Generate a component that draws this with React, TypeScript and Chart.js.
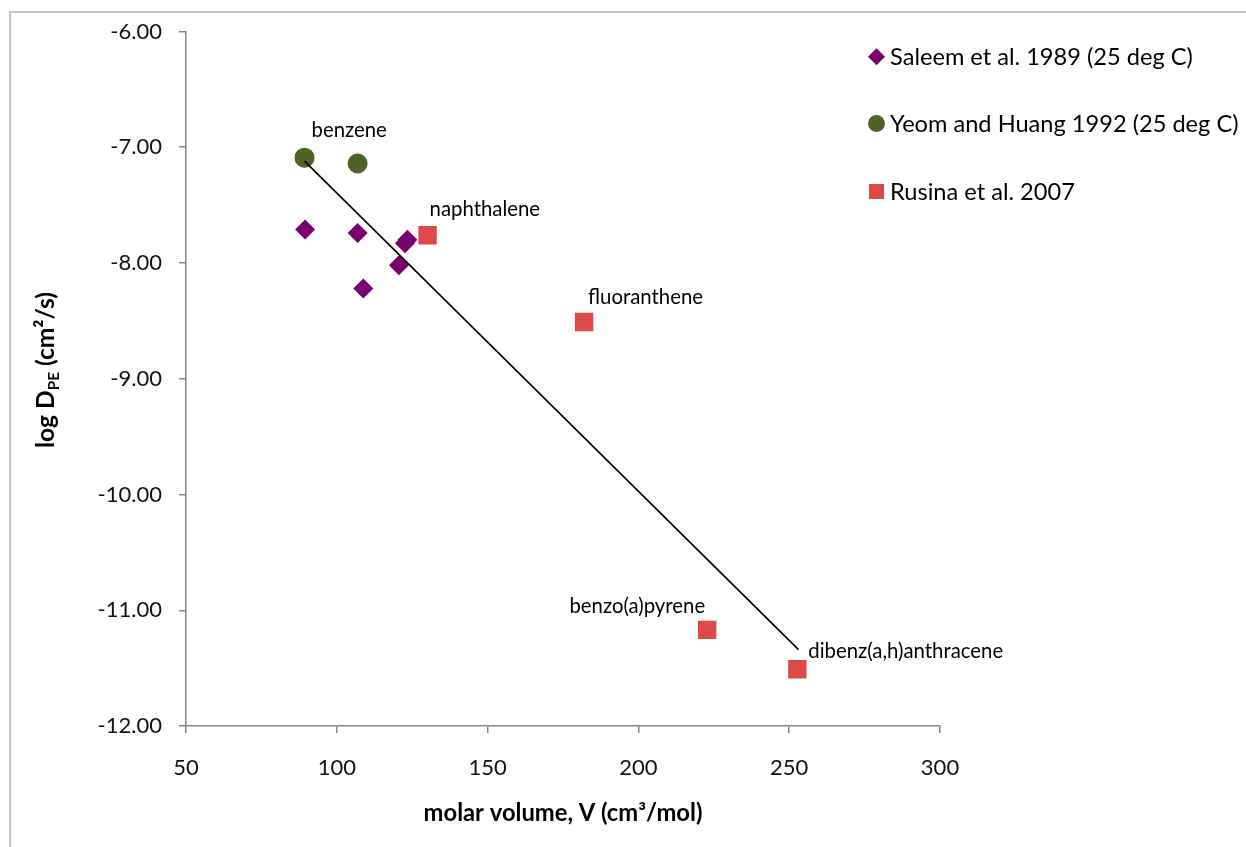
import React, { useEffect, useRef } from 'react';
import { Chart, registerables } from 'chart.js';

Chart.register(...registerables);

const FONT = 'Lato, "Open Sans", sans-serif';

// ---- data ----
const saleemX = [89.5, 106.9, 108.8, 120.6, 122.6, 123.4];
const saleemY = [-7.71, -7.74, -8.22, -8.02, -7.83, -7.8];

const yeomX = [89.3, 106.9];
const yeomY = [-7.09, -7.14];
const yeomLabels = ['benzene', ''];

const rusinaX = [130.1, 182.0, 222.8, 252.7];
const rusinaY = [-7.76, -8.51, -11.17, -11.51];
const rusinaLabels = ['naphthalene', 'fluoranthene', 'benzo(a)pyrene', 'dibenz(a,h)anthracene'];

const trendX = [89.3, 253.1];
const trendY = [-7.12, -11.34];

const seriesNames = ['Saleem et al. 1989 (25 deg C)', 'Yeom and Huang 1992 (25 deg C)', 'Rusina et al. 2007'];
const seriesColors = ['#7A0070', '#4F6228', '#DD4B48'];

const xTickValues = [50, 100, 150, 200, 250, 300];
const yTickValues = [-12, -11, -10, -9, -8, -7, -6];

const xTitle = 'molar volume, V (cm\u00B3/mol)';
const yTitleMain = 'log D';
const yTitleSub = 'PE';
const yTitleRest = ' (cm\u00B2/s)';

const toPoints = (xs: number[], ys: number[]) => xs.map((x, i) => ({ x, y: ys[i] }));

function fitSize(ctx: CanvasRenderingContext2D, text: string, weight: string, target: number) {
  const base = 20;
  ctx.font = `${weight} ${base}px ${FONT}`;
  const w = ctx.measureText(text).width;
  return (base * target) / w;
}

function drawMarker(ctx: CanvasRenderingContext2D, style: string, cx: number, cy: number, r: number, color: string) {
  ctx.fillStyle = color;
  ctx.beginPath();
  if (style === 'diamond') {
    ctx.moveTo(cx - r, cy);
    ctx.lineTo(cx, cy - r);
    ctx.lineTo(cx + r, cy);
    ctx.lineTo(cx, cy + r);
    ctx.closePath();
  } else if (style === 'circle') {
    ctx.arc(cx, cy, r, 0, Math.PI * 2);
  } else {
    ctx.rect(cx - r, cy - r, 2 * r, 2 * r);
  }
  ctx.fill();
}

const annotPlugin = {
  id: 'annot',
  afterDatasetsDraw(chart: any) {
    const ctx: CanvasRenderingContext2D = chart.ctx;
    const xs = chart.scales.x;
    const ys = chart.scales.y;
    ctx.save();

    // outer border (top & left visible)
    ctx.strokeStyle = '#c4c4c4';
    ctx.lineWidth = 2;
    ctx.beginPath();
    ctx.moveTo(10, 847);
    ctx.lineTo(10, 12);
    ctx.lineTo(1246, 12);
    ctx.stroke();

    // point labels
    const lbl = fitSize(ctx, 'fluoranthene', 'normal', 115);
    ctx.font = `normal ${lbl}px ${FONT}`;
    ctx.fillStyle = '#000';
    ctx.textBaseline = 'middle';
    const place = (text: string, vx: number, vy: number, dx: number, dy: number, align: CanvasTextAlign) => {
      if (!text) return;
      ctx.textAlign = align;
      ctx.fillText(text, xs.getPixelForValue(vx) + dx, ys.getPixelForValue(vy) + dy);
    };
    place(yeomLabels[0], yeomX[0], yeomY[0], 7, -27, 'left');
    const offs: [number, number, CanvasTextAlign][] = [
      [2, -26, 'left'],
      [4, -25, 'left'],
      [-2, -23, 'right'],
      [11, -18, 'left'],
    ];
    rusinaLabels.forEach((t, i) => place(t, rusinaX[i], rusinaY[i], offs[i][0], offs[i][1], offs[i][2]));

    // legend
    const lg = fitSize(ctx, seriesNames[0], 'normal', 303);
    ctx.font = `normal ${lg}px ${FONT}`;
    ctx.textAlign = 'left';
    const styles = ['diamond', 'circle', 'square'];
    const radii = [8.5, 8.5, 7.5];
    const rowY = [56.7, 123.5, 191.5];
    seriesNames.forEach((n, i) => {
      drawMarker(ctx, styles[i], 876.5, rowY[i], radii[i], seriesColors[i]);
      ctx.fillStyle = '#000';
      ctx.fillText(n, 890, rowY[i] + 1);
    });

    // x title
    const xt = fitSize(ctx, xTitle, 'bold', 279);
    ctx.font = `bold ${xt}px ${FONT}`;
    ctx.textAlign = 'center';
    ctx.fillStyle = '#000';
    ctx.fillText(xTitle, 563, 813);

    // y title (rotated) with subscript
    ctx.save();
    ctx.translate(45, 370);
    ctx.rotate(-Math.PI / 2);
    const base = 20;
    ctx.font = `bold ${base}px ${FONT}`;
    const w1 = ctx.measureText(yTitleMain).width;
    const w3 = ctx.measureText(yTitleRest).width;
    ctx.font = `bold ${base * 0.62}px ${FONT}`;
    const w2 = ctx.measureText(yTitleSub).width;
    const s = 156 / (w1 + w2 + w3);
    const S = base * s;
    const total = (w1 + w2 + w3) * s;
    let cx = -total / 2;
    ctx.textAlign = 'left';
    ctx.textBaseline = 'alphabetic';
    const baseY = S * 0.35;
    ctx.font = `bold ${S}px ${FONT}`;
    ctx.fillText(yTitleMain, cx, baseY);
    cx += w1 * s;
    ctx.font = `bold ${S * 0.62}px ${FONT}`;
    ctx.fillText(yTitleSub, cx, baseY + S * 0.22);
    cx += w2 * s;
    ctx.font = `bold ${S}px ${FONT}`;
    ctx.fillText(yTitleRest, cx, baseY);
    ctx.restore();

    ctx.restore();
  },
};

export default function App() {
  const ref = useRef<HTMLCanvasElement | null>(null);

  useEffect(() => {
    document.body.style.margin = '0';
    const canvas = ref.current;
    if (!canvas) return;
    const chart = new Chart(canvas, {
      type: 'scatter',
      data: {
        datasets: [
          {
            type: 'line',
            label: 'trend',
            data: toPoints(trendX, trendY),
            borderColor: '#000',
            borderWidth: 1.6,
            pointRadius: 0,
            showLine: true,
            fill: false,
            order: 0,
          } as any,
          {
            label: seriesNames[0],
            data: toPoints(saleemX, saleemY),
            pointStyle: 'rectRot',
            radius: 10,
            backgroundColor: seriesColors[0],
            borderColor: seriesColors[0],
            borderWidth: 0,
            order: 1,
          },
          {
            label: seriesNames[1],
            data: toPoints(yeomX, yeomY),
            pointStyle: 'circle',
            radius: 10,
            backgroundColor: seriesColors[1],
            borderColor: seriesColors[1],
            borderWidth: 0,
            order: 2,
          },
          {
            label: seriesNames[2],
            data: toPoints(rusinaX, rusinaY),
            pointStyle: 'rect',
            radius: 13,
            backgroundColor: seriesColors[2],
            borderColor: seriesColors[2],
            borderWidth: 0,
            order: 3,
          },
        ],
      },
      options: {
        animation: false,
        responsive: false,
        maintainAspectRatio: false,
        layout: { padding: { top: 31.5, right: 306, left: 0, bottom: 0 } },
        plugins: { legend: { display: false }, tooltip: { enabled: false } },
        scales: {
          x: {
            type: 'linear',
            min: 50,
            max: 300,
            afterFit: (scale: any) => {
              scale.height = 121;
            },
            afterBuildTicks: (scale: any) => {
              scale.ticks = xTickValues.map((v) => ({ value: v }));
            },
            grid: { display: true, drawOnChartArea: false, drawTicks: true, tickLength: 7, color: '#868686', lineWidth: 1.5 },
            border: { display: true, color: '#868686', width: 1.5 },
            ticks: { padding: 22, color: '#111', font: { family: FONT, size: 22 } },
          },
          y: {
            type: 'linear',
            min: -12,
            max: -6,
            afterFit: (scale: any) => {
              scale.width = 186;
            },
            afterBuildTicks: (scale: any) => {
              scale.ticks = yTickValues.map((v) => ({ value: v }));
            },
            grid: { display: true, drawOnChartArea: false, drawTicks: true, tickLength: 7, color: '#868686', lineWidth: 1.5 },
            border: { display: true, color: '#868686', width: 1.5 },
            ticks: {
              padding: 17,
              color: '#111',
              font: { family: FONT, size: 22 },
              callback: (v: any) => Number(v).toFixed(2),
            },
          },
        },
      },
      plugins: [annotPlugin],
    });
    return () => chart.destroy();
  }, []);

  return (
    <div style={{ width: 1246, height: 847 }}>
      <canvas ref={ref} width={1246} height={847} style={{ display: 'block' }} />
    </div>
  );
}
